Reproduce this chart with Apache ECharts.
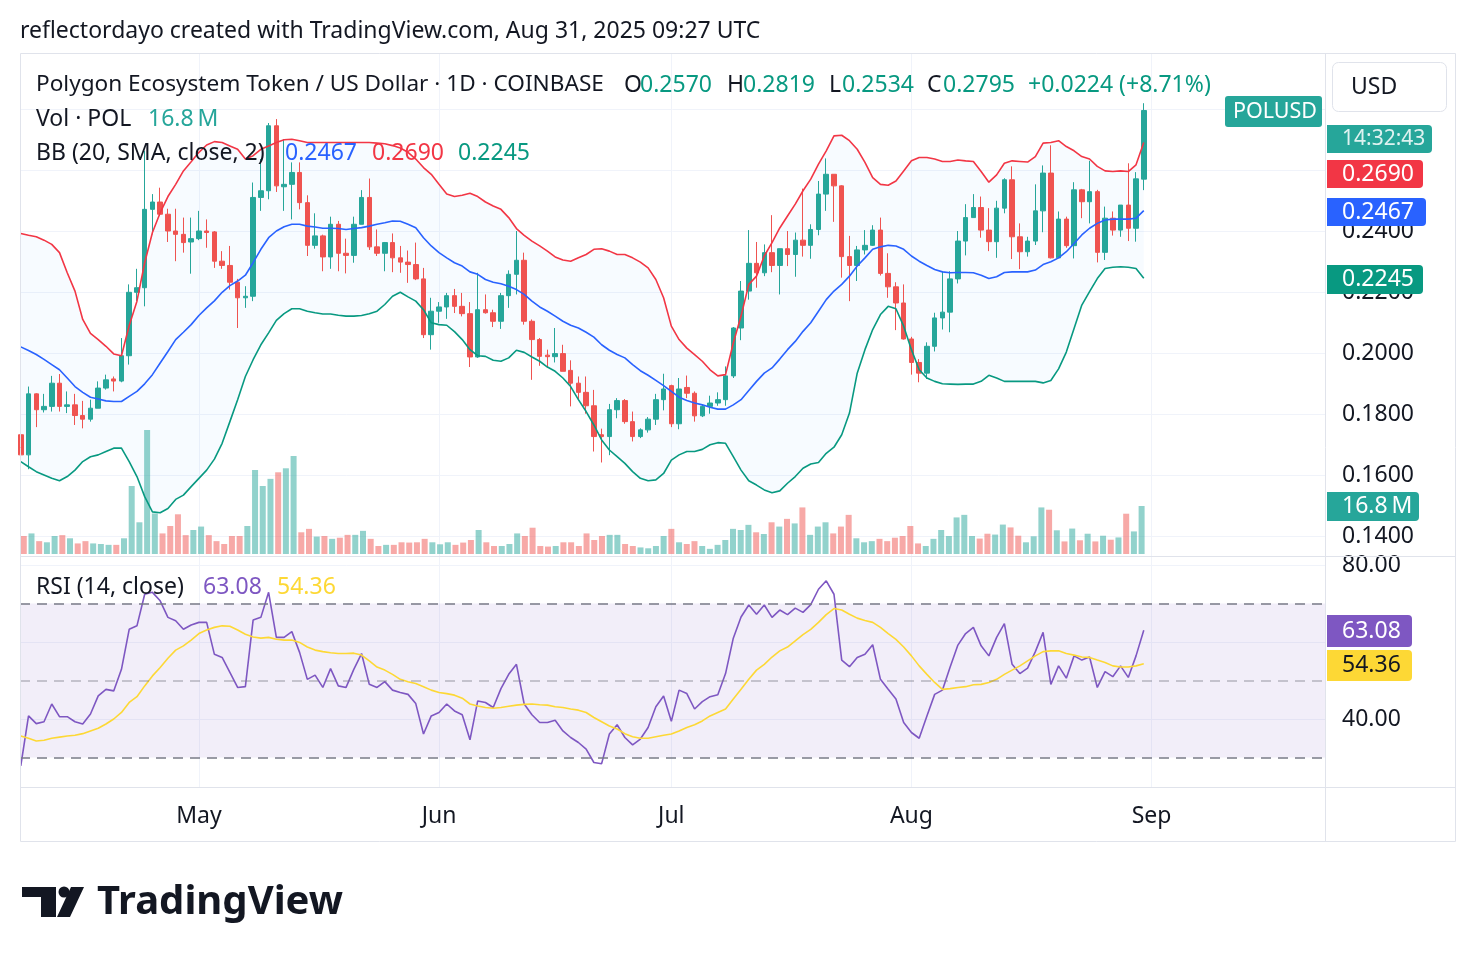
<!DOCTYPE html>
<html><head><meta charset="utf-8">
<script src="https://cdn.jsdelivr.net/npm/echarts@6/dist/echarts.min.js"></script>
<style>html,body{margin:0;padding:0;background:#fff}#c{width:1476px;height:962px}</style>
</head><body><div id="c"></div>
<script>
// ---------- DATA ----------
const firstDay = '2025-04-08';
const opens = [
.1732,.1666,.1866,.1814,.1825,.1901,.1825,.1830,.1795,.1783,
.1819,.1885,.1915,.1908,.1991,.2199,.2214,.2471,.2495,.2455,
.2400,.2389,.2364,.2375,.2400,.2397,.2301,.2287,.2232,.2181,
.2186,.2510,.2532,.2745,.2545,.2553,.2592,.2493,.2353,.2384,
.2315,.2422,.2327,.2320,.2422,.2510,.2348,.2327,.2362,.2312,
.2298,.2290,.2243,.2060,.2137,.2151,.2188,.2153,.2129,.1987,
.2142,.2132,.2104,.2188,.2258,.2304,.2104,.2044,.1993,.1988,
.1998,.1943,.1901,.1871,.1827,.1732,.1726,.1814,.1844,.1775,
.1726,.1748,.1783,.1847,.1893,.1768,.1887,.1868,.1794,.1825,
.1836,.1847,.1925,.2082,.2203,.2294,.2263,.2329,.2287,.2342,
.2323,.2370,.2353,.2405,.2521,.2586,.2548,.2316,.2287,.2338,
.2353,.2403,.2261,.2217,.2164,.2046,.1969,.1934,.2022,.2115,
.2134,.2243,.2367,.2444,.2477,.2403,.2365,.2475,.2568,.2381,
.2332,.2367,.2466,.2590,.2312,.2439,.2352,.2535,.2496,.2529,
.2330,.2442,.2403,.2485,.2409,.2570];
const highs = [
.1760,.1890,.1868,.1866,.1925,.1931,.1874,.1866,.1843,.1847,
.1907,.1929,.1923,.2049,.2225,.2276,.2663,.2521,.2542,.2473,
.2473,.2444,.2444,.2466,.2438,.2400,.2334,.2351,.2243,.2219,
.2559,.2636,.2754,.2767,.2701,.2625,.2625,.2517,.2458,.2388,
.2447,.2433,.2375,.2447,.2534,.2572,.2405,.2364,.2392,.2351,
.2336,.2362,.2279,.2181,.2167,.2197,.2210,.2197,.2167,.2263,
.2192,.2142,.2197,.2271,.2400,.2329,.2110,.2049,.2011,.2082,
.2027,.1976,.1923,.1923,.1879,.1752,.1833,.1852,.1849,.1808,
.1753,.1790,.1866,.1932,.1896,.1918,.1926,.1874,.1830,.1860,
.1871,.1956,.2085,.2236,.2403,.2364,.2356,.2452,.2342,.2400,
.2395,.2539,.2422,.2564,.2638,.2586,.2550,.2384,.2351,.2403,
.2419,.2444,.2327,.2232,.2225,.2053,.1980,.2035,.2132,.2268,
.2268,.2400,.2488,.2521,.2513,.2475,.2499,.2573,.2612,.2425,
.2381,.2553,.2615,.2681,.2464,.2447,.2560,.2538,.2630,.2535,
.2480,.2464,.2485,.2622,.2593,.2819];
const lows = [
.1655,.1619,.1757,.1805,.1808,.1808,.1803,.1764,.1753,.1775,
.1819,.1880,.1874,.1904,.1962,.2170,.2153,.2389,.2449,.2364,
.2301,.2329,.2260,.2370,.2345,.2279,.2276,.2208,.2082,.2148,
.2170,.2466,.2504,.2528,.2466,.2438,.2471,.2318,.2342,.2268,
.2276,.2268,.2261,.2296,.2422,.2338,.2318,.2268,.2265,.2263,
.2230,.2239,.2049,.2011,.2099,.2112,.2131,.2120,.1954,.1984,
.2129,.2085,.2079,.2148,.2192,.2093,.1912,.1958,.1951,.1969,
.1940,.1825,.1847,.1801,.1677,.1641,.1665,.1786,.1768,.1710,
.1721,.1739,.1764,.1812,.1757,.1750,.1852,.1775,.1790,.1801,
.1827,.1827,.1918,.2042,.2175,.2214,.2252,.2265,.2192,.2285,
.2250,.2316,.2309,.2386,.2466,.2430,.2247,.2170,.2236,.2323,
.2351,.2254,.2181,.2075,.2044,.1929,.1904,.1915,.2005,.2077,
.2068,.2228,.2320,.2444,.2378,.2334,.2312,.2458,.2308,.2275,
.2316,.2354,.2396,.2310,.2312,.2345,.2310,.2442,.2425,.2297,
.2305,.2385,.2381,.2367,.2365,.2534];
const closes = [
.1666,.1866,.1814,.1825,.1901,.1825,.1830,.1795,.1783,.1819,
.1885,.1912,.1908,.1991,.2199,.2214,.2471,.2495,.2455,.2400,
.2389,.2362,.2375,.2400,.2395,.2301,.2287,.2232,.2181,.2186,
.2510,.2532,.2745,.2548,.2553,.2592,.2493,.2353,.2384,.2315,
.2422,.2327,.2320,.2422,.2510,.2348,.2327,.2362,.2312,.2298,
.2290,.2243,.2060,.2137,.2151,.2188,.2153,.2129,.1987,.2142,
.2132,.2104,.2188,.2258,.2304,.2104,.2044,.1989,.1988,.1998,
.1940,.1901,.1871,.1827,.1726,.1726,.1814,.1844,.1775,.1726,
.1748,.1783,.1847,.1882,.1768,.1882,.1868,.1794,.1825,.1836,
.1847,.1925,.2082,.2203,.2294,.2263,.2329,.2287,.2342,.2323,
.2370,.2353,.2405,.2521,.2586,.2548,.2316,.2287,.2338,.2353,
.2403,.2261,.2217,.2164,.2046,.1969,.1934,.2022,.2115,.2134,
.2243,.2367,.2444,.2477,.2403,.2365,.2475,.2568,.2381,.2332,
.2367,.2466,.2590,.2312,.2439,.2352,.2535,.2496,.2529,.2330,
.2442,.2403,.2485,.2409,.2571,.2795];
const volumesM = [
6.3,7.2,4.5,4.1,6.3,6.6,5.5,3.7,4.5,3.7,
3.5,3.2,3.2,5.5,23.8,11.1,43.4,14.2,7.2,9.8,
13.9,6.6,8.4,9.6,6.6,4.5,3.5,6.3,6.3,9.8,
29.4,23.8,26.3,28.6,30.0,34.3,7.6,8.8,6.1,6.3,
5.3,5.7,6.7,6.7,8.1,5.3,2.8,3.2,3.2,4.1,
4.0,4.1,5.3,4.1,3.4,4.1,3.2,4.0,4.9,8.4,
4.1,2.8,2.8,3.5,7.2,6.3,9.2,2.8,2.6,2.8,
4.1,4.1,2.8,7.2,4.9,6.3,6.7,6.7,3.5,2.8,
2.3,2.0,2.8,6.3,8.8,4.1,3.5,4.5,2.8,1.8,
3.2,4.9,8.8,8.4,10.2,7.6,7.0,11.1,9.6,12.3,
10.7,16.3,6.7,9.6,11.1,7.2,9.6,13.7,5.5,4.1,
4.5,5.3,4.5,5.7,6.3,9.8,3.7,2.8,5.3,8.4,
6.3,12.8,13.7,6.3,5.4,7.1,6.8,10.3,9.3,6.4,
4.1,6.2,16.3,15.5,8.3,4.4,8.9,4.8,7.1,4.4,
6.4,5.0,5.8,14.1,7.9,16.8];
const bbUpper = [
.2392,.2386,.2381,.2370,.2356,.2329,.2263,.2203,.2110,.2064,
.2044,.2022,.1997,.1991,.2090,.2170,.2296,.2395,.2460,.2513,
.2553,.2597,.2627,.2658,.2682,.2693,.2690,.2679,.2668,.2636,
.2647,.2668,.2679,.2690,.2699,.2701,.2696,.2690,.2690,.2690,
.2690,.2690,.2690,.2690,.2690,.2690,.2688,.2686,.2680,.2672,
.2658,.2636,.2608,.2586,.2553,.2521,.2513,.2517,.2524,.2513,
.2495,.2482,.2471,.2444,.2408,.2386,.2367,.2351,.2334,.2315,
.2305,.2301,.2312,.2323,.2340,.2342,.2334,.2323,.2323,.2312,
.2298,.2279,.2241,.2181,.2088,.2044,.2016,.1995,.1973,.1945,
.1925,.1929,.2033,.2121,.2225,.2252,.2318,.2362,.2410,.2449,
.2488,.2532,.2570,.2619,.2663,.2712,.2714,.2696,.2668,.2625,
.2575,.2553,.2550,.2564,.2597,.2630,.2641,.2641,.2636,.2628,
.2628,.2633,.2630,.2628,.2595,.2560,.2584,.2622,.2630,.2628,
.2626,.2644,.2688,.2690,.2696,.2677,.2663,.2644,.2636,.2612,
.2597,.2595,.2597,.2595,.2617,.2690];
const bbBasis = [
.2020,.2008,.1995,.1979,.1962,.1945,.1918,.1890,.1871,.1855,
.1849,.1843,.1841,.1841,.1858,.1874,.1899,.1929,.1967,.2005,
.2044,.2068,.2093,.2123,.2148,.2171,.2199,.2221,.2236,.2255,
.2296,.2340,.2378,.2400,.2414,.2422,.2422,.2416,.2413,.2409,
.2409,.2408,.2405,.2408,.2411,.2416,.2422,.2427,.2433,.2432,
.2422,.2411,.2378,.2351,.2329,.2312,.2296,.2285,.2266,.2258,
.2241,.2232,.2227,.2219,.2208,.2192,.2170,.2151,.2137,.2121,
.2104,.2091,.2082,.2068,.2052,.2027,.2009,.1995,.1984,.1962,
.1942,.1927,.1910,.1893,.1874,.1855,.1844,.1836,.1830,.1822,
.1816,.1816,.1830,.1847,.1877,.1907,.1934,.1951,.1980,.2011,
.2038,.2071,.2099,.2137,.2175,.2203,.2225,.2252,.2285,.2312,
.2340,.2348,.2353,.2351,.2340,.2318,.2301,.2287,.2274,.2266,
.2263,.2264,.2264,.2263,.2255,.2244,.2250,.2264,.2266,.2266,
.2266,.2272,.2290,.2299,.2312,.2332,.2359,.2387,.2409,.2425,
.2436,.2439,.2439,.2439,.2442,.2467];
const bbLower = [
.1644,.1627,.1611,.1600,.1589,.1581,.1595,.1616,.1644,.1660,
.1666,.1677,.1688,.1688,.1644,.1595,.1529,.1479,.1476,.1490,
.1520,.1534,.1562,.1589,.1616,.1652,.1704,.1775,.1847,.1923,
.1978,.2027,.2066,.2107,.2129,.2145,.2145,.2137,.2132,.2128,
.2128,.2124,.2121,.2121,.2123,.2129,.2137,.2159,.2186,.2199,
.2184,.2170,.2142,.2099,.2093,.2091,.2070,.2044,.2011,.1991,
.1989,.1976,.1973,.1984,.2009,.2002,.1987,.1973,.1954,.1940,
.1918,.1890,.1847,.1808,.1764,.1715,.1682,.1660,.1638,.1611,
.1589,.1581,.1584,.1605,.1649,.1666,.1677,.1677,.1684,.1699,
.1706,.1704,.1660,.1616,.1581,.1567,.1551,.1542,.1548,.1573,
.1595,.1622,.1636,.1641,.1671,.1691,.1732,.1803,.1934,.2011,
.2077,.2126,.2153,.2145,.2088,.2011,.1945,.1918,.1907,.1899,
.1898,.1897,.1898,.1898,.1907,.1927,.1918,.1907,.1907,.1907,
.1907,.1907,.1902,.1910,.1948,.2003,.2080,.2157,.2201,.2244,
.2277,.2281,.2283,.2281,.2277,.2245];
const rsi = [
27.8,40.8,38.8,39.3,43.9,40.6,40.6,39.3,38.7,41.3,
46.0,47.7,47.3,52.9,63.3,64.2,72.4,72.9,70.7,66.4,
65.5,63.3,64.4,65.1,65.1,56.8,56.0,52.1,48.2,48.4,
65.7,66.4,72.9,61.2,61.2,62.7,57.3,50.3,51.4,48.2,
53.1,48.6,48.2,52.9,57.0,49.0,48.2,49.7,47.5,46.9,
46.4,44.0,36.1,40.8,41.7,43.9,42.1,41.1,34.6,44.7,
44.3,43.0,47.9,51.6,54.2,43.9,41.1,39.1,39.1,39.7,
36.9,35.2,33.9,32.2,28.7,28.4,36.1,38.5,35.2,33.3,
34.8,37.8,43.2,46.0,39.4,47.5,46.6,42.6,44.5,45.8,
46.3,51.8,61.0,66.5,69.6,67.2,69.6,66.4,68.3,67.1,
68.8,67.7,69.7,73.7,75.9,72.4,55.3,53.6,56.0,56.8,
59.3,50.3,47.7,45.2,39.1,36.5,35.0,40.8,46.4,47.5,
53.5,59.2,62.2,63.8,59.0,56.4,61.2,64.8,54.2,51.8,
53.2,57.5,62.5,49.0,53.8,50.6,56.4,55.3,56.1,48.2,
52.3,51.0,53.8,50.8,56.4,63.08];
const rsiMA = [
35.6,35.0,34.3,34.5,35.0,35.3,35.6,35.8,36.2,36.9,
37.6,38.7,40.0,41.7,44.3,45.8,48.6,51.2,53.4,55.8,
57.9,59.0,60.5,62.2,63.1,63.8,64.2,64.1,63.1,62.0,
61.3,61.0,61.2,60.7,60.5,60.5,59.9,58.7,57.9,57.5,
57.2,57.0,57.0,57.1,56.6,55.1,53.5,52.7,51.6,50.3,
49.7,49.2,48.4,47.5,46.9,46.6,46.2,45.4,43.9,43.4,
43.0,42.8,43.0,43.3,43.6,43.8,43.9,43.7,43.6,43.2,
43.0,42.6,42.3,41.7,40.4,39.3,38.2,37.4,36.2,35.4,
35.0,35.0,35.4,35.8,36.1,36.9,37.8,38.5,39.5,40.8,
41.7,42.6,45.2,47.7,50.3,52.7,54.2,56.1,57.7,58.7,
60.3,61.9,63.3,65.1,67.1,68.7,68.3,67.2,66.2,65.6,
65.1,63.8,62.2,60.7,58.7,56.4,53.8,51.6,49.5,47.7,
47.9,48.2,48.4,48.9,49.0,49.5,50.3,51.6,52.7,53.8,
55.1,56.4,57.5,57.7,57.7,57.0,56.6,56.1,56.0,55.3,
54.7,53.8,53.5,53.5,53.8,54.36];
const priceTicks = [0.14, 0.16, 0.18, 0.20, 0.22, 0.24, 0.26, 0.28];
const hiddenPriceLabels = [0.28];
const rsiTicks = [40, 60, 80];
const hiddenRsiLabels = [60];
const rsiLevels = [30, 50, 70];
const monthTicks = ['2025-05-01','2025-06-01','2025-07-01','2025-08-01','2025-09-01'];
const monthLabels = ['May','Jun','Jul','Aug','Sep'];

// ---------- BUILD ----------
const FONT = '"Noto Sans", "Open Sans", sans-serif';
const FS = 23;
const TEXT = '#131722', GRIDC = '#f0f3fa', BORDER = '#e0e3eb';
const UP = '#26a69a', DOWN = '#ef5350';
const DAY = 86400000;
const t0 = Date.parse(firstDay + 'T00:00:00Z');
const dates = closes.map((_, i) => t0 + i * DAY);
const xMin = t0 - 0.1 * DAY, xMax = xMin + 168.5 * DAY;
const monthTs = monthTicks.map(d => Date.parse(d + 'T00:00:00Z'));
const N = closes.length, L = N - 1;

const candleData = dates.map((t, i) => [t, opens[i], closes[i], lows[i], highs[i]]);
const volData = dates.map((t, i) => ({value: [t, volumesM[i]],
  itemStyle: {color: closes[i] >= opens[i] ? 'rgba(38,166,154,0.5)' : 'rgba(239,83,80,0.5)'}}));
const pair = arr => dates.map((t, i) => [t, arr[i]]);
const bandData = dates.map((t, i) => [t, bbUpper[i] - bbLower[i]]);

const xBase = {type: 'time', min: xMin, max: xMax, axisLine: {show: false}, axisTick: {show: false},
  axisLabel: {show: false}, splitLine: {show: false}};

const lineS = (name, data, color, xi, yi, z, w) => ({name, type: 'line', data, xAxisIndex: xi, yAxisIndex: yi,
  symbol: 'none', z, lineStyle: {color, width: w || 1.6}, silent: true});

const vGrid = monthTs.map(t => ({xAxis: t, label: {show: false}}));
const vGridLabeled = monthTs.map((t, k) => ({xAxis: t, label: {show: true, position: 'start', distance: 18,
  formatter: monthLabels[k], color: TEXT, fontSize: FS, fontFamily: FONT}}));
const axisLbl = {show: true, position: 'end', distance: 17, color: TEXT, fontSize: FS, fontFamily: FONT};

const option = {
  animation: false,
  backgroundColor: '#ffffff',
  grid: [
    {left: 20, right: 151, top: 53, height: 503},
    {left: 20, right: 151, top: 404, height: 150},
    {left: 20, right: 151, top: 557, height: 230}
  ],
  xAxis: [
    Object.assign({}, xBase, {gridIndex: 0}),
    Object.assign({}, xBase, {gridIndex: 1}),
    Object.assign({}, xBase, {gridIndex: 2})
  ],
  yAxis: [
    {type: 'value', gridIndex: 0, min: 0.133443, max: 0.298361, show: false, splitLine: {show: false}},
    {type: 'value', gridIndex: 1, min: 0, max: 52.5, show: false, splitLine: {show: false}},
    {type: 'value', gridIndex: 2, min: 22.34, max: 82.08, show: false, splitLine: {show: false}}
  ],
  series: [
    {name: 'bbBase', type: 'line', stack: 'bb', data: pair(bbLower), xAxisIndex: 0, yAxisIndex: 0,
      symbol: 'none', lineStyle: {opacity: 0}, z: 1, silent: true,
      markLine: {silent: true, symbol: ['none', 'none'], z: 0,
        lineStyle: {color: GRIDC, width: 1, type: 'solid'}, label: axisLbl,
        data: priceTicks.map(v => ({yAxis: v, label: {show: hiddenPriceLabels.indexOf(v) < 0, formatter: v.toFixed(4)}})).concat(vGrid)}},
    {name: 'bbBand', type: 'line', stack: 'bb', data: bandData, xAxisIndex: 0, yAxisIndex: 0,
      symbol: 'none', lineStyle: {opacity: 0}, areaStyle: {color: 'rgba(33,150,243,0.05)'}, z: 1, silent: true},
    {name: 'vol', type: 'bar', data: volData, xAxisIndex: 1, yAxisIndex: 1, barWidth: 6, z: 2, silent: true},
    {name: 'price', type: 'candlestick', data: candleData, xAxisIndex: 0, yAxisIndex: 0, encode: {x: 0, y: [1, 2, 3, 4]},
      barWidth: 5, z: 3, silent: true,
      itemStyle: {color: UP, color0: DOWN, borderColor: UP, borderColor0: DOWN, borderWidth: 1}},
    lineS('upper', pair(bbUpper), '#f23645', 0, 0, 4),
    lineS('basis', pair(bbBasis), '#2962ff', 0, 0, 4),
    lineS('lower', pair(bbLower), '#089981', 0, 0, 4),
    Object.assign(lineS('rsi', pair(rsi), '#7e57c2', 2, 2, 4), {
      markArea: {silent: true, itemStyle: {color: 'rgba(126,87,194,0.1)'},
        data: [[{yAxis: rsiLevels[0]}, {yAxis: rsiLevels[2]}]]},
      markLine: {silent: true, symbol: ['none', 'none'], label: {show: false},
        data: rsiLevels.map(v => ({yAxis: v, lineStyle: {color: v === 50 ? 'rgba(120,123,134,0.5)' : '#787b86',
          width: 1.5, type: [10, 7]}}))}}),
    Object.assign(lineS('rsiMA', pair(rsiMA), '#fdd835', 2, 2, 4), {
      markLine: {silent: true, symbol: ['none', 'none'], z: 0,
        lineStyle: {color: GRIDC, width: 1, type: 'solid'}, label: axisLbl,
        data: rsiTicks.map(v => ({yAxis: v, label: {show: hiddenRsiLabels.indexOf(v) < 0, formatter: v.toFixed(2)}})).concat(vGridLabeled)}})
  ],
  graphic: []
};

// ---------- TEXT / CHROME ----------
const T = (x, y, text, fill, size, weight) => ({type: 'text', x, y, z: 100,
  style: {text, fill, font: (weight || 'normal') + ' ' + (size || FS) + 'px ' + FONT, textAlign: 'left', textVerticalAlign: 'middle'}});
const tag = (x, y, w, h, bg, text, fg, r, pad, fs) => ({type: 'group', z: 100, children: [
  {type: 'rect', z: 100, shape: {x, y, width: w, height: h, r: r || [0, 4, 4, 0]}, style: {fill: bg}},
  {type: 'text', z: 101, x: x + (pad || 15), y: y + h / 2, style: {text, fill: fg || '#ffffff', font: (fs || FS) + 'px ' + FONT, textAlign: 'left', textVerticalAlign: 'middle'}}
]});
const f4 = v => v.toFixed(4);
const chg = closes[L] - closes[L - 1];
const pct = chg / closes[L - 1] * 100;
const green = '#089981';
const g = option.graphic;
g.push({type: 'rect', z: 90, shape: {x: 20.5, y: 53.5, width: 1435, height: 788}, style: {fill: 'none', stroke: BORDER, lineWidth: 1}});
g.push({type: 'line', z: 90, shape: {x1: 1325.5, y1: 53, x2: 1325.5, y2: 842}, style: {stroke: BORDER, lineWidth: 1}});
g.push({type: 'line', z: 90, shape: {x1: 20, y1: 556.5, x2: 1456, y2: 556.5}, style: {stroke: BORDER, lineWidth: 1}});
g.push({type: 'line', z: 90, shape: {x1: 20, y1: 787.5, x2: 1456, y2: 787.5}, style: {stroke: BORDER, lineWidth: 1}});
g.push(T(20, 31, 'reflectordayo created with TradingView.com, Aug 31, 2025 09:27 UTC', TEXT));
g.push(T(36, 85, 'Polygon Ecosystem Token / US Dollar \u00b7 1D \u00b7 COINBASE', TEXT, 22.6));
g.push(T(624, 85, 'O', TEXT)); g.push(T(640, 85, f4(opens[L]), green));
g.push(T(727, 85, 'H', TEXT)); g.push(T(743, 85, f4(highs[L]), green));
g.push(T(829, 85, 'L', TEXT)); g.push(T(842, 85, f4(lows[L]), green));
g.push(T(927, 85, 'C', TEXT)); g.push(T(943, 85, f4(closes[L]), green));
g.push(T(1028, 85, (chg >= 0 ? '+' : '') + f4(chg) + ' (' + (pct >= 0 ? '+' : '') + pct.toFixed(2) + '%)', green));
const volTxt = volumesM[L].toFixed(1) + '\u202fM';
g.push(T(36, 119, 'Vol \u00b7 POL', TEXT)); g.push(T(148, 119, volTxt, UP));
g.push(T(36, 153, 'BB (20, SMA, close, 2)', TEXT));
g.push(T(285, 153, f4(bbBasis[L]), '#2962ff'));
g.push(T(372, 153, f4(bbUpper[L]), '#f23645'));
g.push(T(458, 153, f4(bbLower[L]), green));
g.push(T(36, 587, 'RSI (14, close)', TEXT));
g.push(T(203, 587, rsi[L].toFixed(2), '#7e57c2'));
g.push(T(277, 587, rsiMA[L].toFixed(2), '#fdd835'));
g.push({type: 'rect', z: 100, shape: {x: 1332.5, y: 62.5, width: 114, height: 49, r: 6}, style: {fill: '#fff', stroke: BORDER, lineWidth: 1}});
g.push(T(1351, 87, 'USD', TEXT));
g.push(tag(1225, 96, 97, 31, UP, 'POLUSD', '#ffffff', 3, 8, 21.5));
g.push(tag(1327, 125, 105, 28, UP, '14:32:43', 'rgba(255,255,255,0.85)', null, 15, 21));
g.push(tag(1327, 160, 96, 28, '#f23645', f4(bbUpper[L])));
g.push(tag(1327, 198, 99, 28, '#2962ff', f4(bbBasis[L])));
g.push(tag(1327, 265, 96, 29, green, f4(bbLower[L])));
g.push(tag(1327, 492, 92, 29, UP, volTxt));
g.push(tag(1327, 615, 85, 32, '#7e57c2', rsi[L].toFixed(2)));
g.push(tag(1327, 650, 85, 31, '#fdd835', rsiMA[L].toFixed(2), TEXT));
g.push({type: 'rect', z: 100, shape: {x: 22, y: 887, width: 34, height: 10}, style: {fill: TEXT}});
g.push({type: 'rect', z: 100, shape: {x: 41, y: 887, width: 15, height: 30}, style: {fill: TEXT}});
g.push({type: 'circle', z: 100, shape: {cx: 64, cy: 892, r: 5.5}, style: {fill: TEXT}});
g.push({type: 'polygon', z: 100, shape: {points: [[71, 887], [84, 887], [70, 917], [57, 917]]}, style: {fill: TEXT}});
g.push(T(97, 903, 'TradingView', TEXT, 40, 'bold'));

const chart = echarts.init(document.getElementById('c'), null, {renderer: 'canvas'});
chart.setOption(option);
</script></body></html>
